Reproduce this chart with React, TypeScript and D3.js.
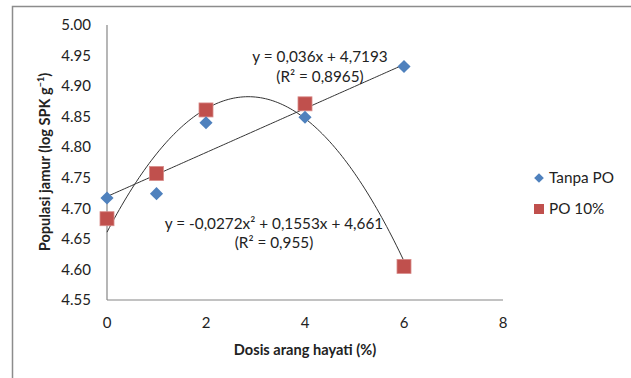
import React from 'react';
import * as d3 from 'd3';

// dose of biochar (%)
const doses = [0, 1, 2, 4, 6];
const tanpaPO = [4.717, 4.724, 4.840, 4.849, 4.932];
const po10 = [4.683, 4.757, 4.861, 4.871, 4.605];

// trendline coefficients (from the chart labels)
const linCoef = [4.7193, 0.036]; // a + b x
const polyCoef = [4.661, 0.1553, -0.0272]; // a + b x + c x^2

const xTicks = [0, 2, 4, 6, 8];
const yTicks = [4.55, 4.6, 4.65, 4.7, 4.75, 4.8, 4.85, 4.9, 4.95, 5.0];

const W = 631;
const H = 378;
const FONT = 'Lato, "Open Sans", sans-serif';
const BLUE = '#4f81bd';
const RED = '#c0504d';

export default function App() {
  const x = d3.scaleLinear().domain([0, 8]).range([107, 503]);
  const y = d3.scaleLinear().domain([4.55, 5.0]).range([300, 25]);

  const lin = (v: number) => linCoef[0] + linCoef[1] * v;
  const poly = (v: number) => polyCoef[0] + polyCoef[1] * v + polyCoef[2] * v * v;

  const line = d3.line<number>().x(d => x(d));
  const xs = d3.range(0, 6.001, 0.05);
  const linPath = line.y(d => y(lin(d)))(xs) || '';
  const polyPath = line.y(d => y(poly(d)))(xs) || '';

  const diamond = d3.symbol().type(d3.symbolDiamond2).size(110)() || '';

  return (
    <svg width={W} height={H} style={{ position: 'fixed', left: 0, top: 0 }} fontFamily={FONT}>
      <rect width={W} height={H} fill="#fff" />
      {/* outer frame (clipped by the picture) */}
      <path d={`M12.5,${H + 5}V6.5H${W + 5}`} fill="none" stroke="#8c8c8c" strokeWidth={1.5} />

      {/* axes */}
      <line x1={x(0)} x2={x(0)} y1={y(5.0)} y2={y(4.55)} stroke="#868686" strokeWidth={1.2} />
      <line x1={x(0)} x2={x(8)} y1={y(4.55)} y2={y(4.55)} stroke="#868686" strokeWidth={1.2} />

      {yTicks.map(t => (
        <text key={t} x={91} y={y(t)} dy="0.35em" textAnchor="end" fontSize={15} fill="#222">
          {t.toFixed(2)}
        </text>
      ))}
      {xTicks.map(t => (
        <text key={t} x={x(t)} y={323} dy="0.35em" textAnchor="middle" fontSize={15} fill="#222">
          {t}
        </text>
      ))}

      <text x={305} y={350} dy="0.35em" textAnchor="middle" fontSize={14.6} fontWeight="bold" fill="#222">
        Dosis arang hayati (%)
      </text>
      <text transform="translate(45,162) rotate(-90)" dy="0.35em" textAnchor="middle" fontSize={14.6} fontWeight="bold" fill="#222">
        Populasi jamur (log SPK g<tspan dy="-6" fontSize={9}>−1</tspan><tspan dy="6">)</tspan>
      </text>

      {/* trendlines */}
      <path d={linPath} fill="none" stroke="#333" strokeWidth={1} />
      <path d={polyPath} fill="none" stroke="#333" strokeWidth={1} />

      {/* markers */}
      {doses.map((d, i) => (
        <rect key={'r' + d} x={x(d) - 7} y={y(po10[i]) - 7} width={14} height={14} fill={RED} stroke="#d88a88" strokeWidth={0.8} />
      ))}
      {doses.map((d, i) => (
        <path key={'b' + d} d={diamond} transform={`translate(${x(d)},${y(tanpaPO[i])})`} fill={BLUE} />
      ))}

      {/* equation labels */}
      <text x={320} y={57} dy="0.35em" textAnchor="middle" fontSize={15.3} fill="#222">
        y = 0,036x + 4,7193
      </text>
      <text x={320} y={77} dy="0.35em" textAnchor="middle" fontSize={15.3} fill="#222">
        (R² = 0,8965)
      </text>
      <text x={274} y={224} dy="0.35em" textAnchor="middle" fontSize={15.3} fill="#222">
        y = -0,0272x² + 0,1553x + 4,661
      </text>
      <text x={274} y={243} dy="0.35em" textAnchor="middle" fontSize={15.3} fill="#222">
        (R² = 0,955)
      </text>

      {/* legend */}
      <path d={d3.symbol().type(d3.symbolDiamond2).size(60)() || ''} transform="translate(539,178)" fill={BLUE} />
      <text x={549} y={178} dy="0.35em" fontSize={15.3} fill="#222">Tanpa PO</text>
      <rect x={534} y={204} width={10} height={10} fill={RED} />
      <text x={549} y={209} dy="0.35em" fontSize={15.3} fill="#222">PO 10%</text>
    </svg>
  );
}
